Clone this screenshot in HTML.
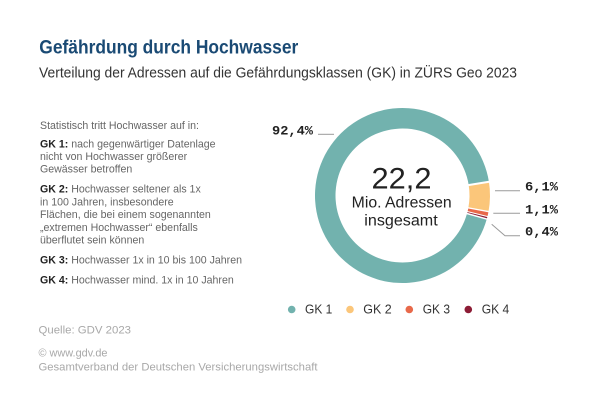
<!DOCTYPE html>
<html>
<head>
<meta charset="utf-8">
<style>
  html,body{margin:0;padding:0;background:#fff;}
  body{width:600px;height:407px;overflow:hidden;}
  svg{display:block;}
</style>
</head>
<body>
<svg width="600" height="407" viewBox="0 0 600 407" xmlns="http://www.w3.org/2000/svg">
  <rect width="600" height="407" fill="#fff"/>

  <!-- Title -->
  <text x="39.3" y="53.3" font-family="Liberation Sans, sans-serif" font-weight="bold" font-size="19.5" fill="#1a4a74" textLength="259" lengthAdjust="spacingAndGlyphs">Gefährdung durch Hochwasser</text>
  <text x="39" y="77.3" font-family="Liberation Sans, sans-serif" font-size="15" fill="#333" textLength="478" lengthAdjust="spacingAndGlyphs">Verteilung der Adressen auf die Gefährdungsklassen (GK) in ZÜRS Geo 2023</text>

  <!-- Left description -->
  <g font-family="Liberation Sans, sans-serif" font-size="10.6" fill="#666">
    <text x="40" y="129">Statistisch tritt Hochwasser auf in:</text>
    <text x="40" y="147.3"><tspan font-weight="bold" fill="#222">GK 1:</tspan> nach gegenwärtiger Datenlage</text>
    <text x="40" y="160">nicht von Hochwasser größerer</text>
    <text x="40" y="172.7">Gewässer betroffen</text>
    <text x="40" y="192.7"><tspan font-weight="bold" fill="#222">GK 2:</tspan> Hochwasser seltener als 1x</text>
    <text x="40" y="205.5">in 100 Jahren, insbesondere</text>
    <text x="40" y="218.2">Flächen, die bei einem sogenannten</text>
    <text x="40" y="231">„extremen Hochwasser“ ebenfalls</text>
    <text x="40" y="243.7">überflutet sein können</text>
    <text x="40" y="263.5"><tspan font-weight="bold" fill="#222">GK 3:</tspan> Hochwasser 1x in 10 bis 100 Jahren</text>
    <text x="40" y="283.3"><tspan font-weight="bold" fill="#222">GK 4:</tspan> Hochwasser mind. 1x in 10 Jahren</text>
  </g>

  <!-- Donut -->
  <path d="M 486.78 219.03 A 87.5 87.5 0 1 1 488.92 181.81 L 468.68 185.02 A 67 67 0 1 0 467.03 213.52 Z" fill="#72b2ae"/>
  <path d="M 488.92 181.81 A 87.5 87.5 0 0 1 488.51 211.60 L 468.36 207.82 A 67 67 0 0 0 468.68 185.02 Z" fill="#fbc67a"/>
  <path d="M 488.51 211.60 A 87.5 87.5 0 0 1 487.44 216.52 L 467.54 211.60 A 67 67 0 0 0 468.36 207.82 Z" fill="#e8694a"/>
  <path d="M 487.44 216.52 A 87.5 87.5 0 0 1 486.78 219.03 L 467.03 213.52 A 67 67 0 0 0 467.54 211.60 Z" fill="#8c1c35"/>
  <g stroke="#fff">
    <line x1="466.70" y1="185.33" x2="491.39" y2="181.42" stroke-width="2"/>
    <line x1="466.39" y1="207.46" x2="490.96" y2="212.06" stroke-width="1.3"/>
    <line x1="465.60" y1="211.11" x2="489.86" y2="217.12" stroke-width="1.1"/>
    <line x1="465.11" y1="212.98" x2="489.18" y2="219.70" stroke-width="1.5"/>
  </g>

  <!-- Center text -->
  <g font-family="Liberation Sans, sans-serif" fill="#222" text-anchor="middle">
    <text x="401.5" y="188.7" font-size="29.5" textLength="60" lengthAdjust="spacingAndGlyphs">22,2</text>
    <text x="401.7" y="207.3" font-size="15.5" textLength="100" lengthAdjust="spacingAndGlyphs">Mio. Adressen</text>
    <text x="401" y="225.7" font-size="15.5" textLength="73.4" lengthAdjust="spacingAndGlyphs">insgesamt</text>
  </g>

  <!-- Leader lines -->
  <g stroke="#9a9a9a" stroke-width="1" fill="none">
    <line x1="318" y1="134.3" x2="334" y2="134.3"/>
    <line x1="495" y1="190.7" x2="520" y2="190.7"/>
    <line x1="493.3" y1="213.3" x2="520" y2="213.3"/>
    <polyline points="491.7,224.3 505,235.7 520,235.7"/>
  </g>

  <!-- Percentage labels -->
  <g font-family="Liberation Mono, monospace" font-weight="bold" font-size="13" fill="#222">
    <text x="272" y="134.5" textLength="41" lengthAdjust="spacingAndGlyphs">92,4%</text>
    <text x="525" y="190.3" textLength="33" lengthAdjust="spacingAndGlyphs">6,1%</text>
    <text x="525" y="213.3" textLength="33" lengthAdjust="spacingAndGlyphs">1,1%</text>
    <text x="525" y="235.5" textLength="33" lengthAdjust="spacingAndGlyphs">0,4%</text>
  </g>

  <!-- Legend -->
  <circle cx="291.7" cy="309.5" r="3.8" fill="#72b2ae"/>
  <circle cx="350" cy="309.5" r="3.8" fill="#fbc67a"/>
  <circle cx="409.3" cy="309.5" r="3.8" fill="#e8694a"/>
  <circle cx="468.3" cy="309.5" r="3.8" fill="#8c1c35"/>
  <g font-family="Liberation Sans, sans-serif" font-size="12.5" fill="#333">
    <text x="305" y="313.3" textLength="27.3" lengthAdjust="spacingAndGlyphs">GK 1</text>
    <text x="363.3" y="313.3" textLength="28.4" lengthAdjust="spacingAndGlyphs">GK 2</text>
    <text x="422.7" y="313.3" textLength="27.3" lengthAdjust="spacingAndGlyphs">GK 3</text>
    <text x="481.7" y="313.3" textLength="27.6" lengthAdjust="spacingAndGlyphs">GK 4</text>
  </g>

  <!-- Footer -->
  <g font-family="Liberation Sans, sans-serif" font-size="10.8" fill="#a8a8a8">
    <text x="38.5" y="333.3" textLength="92.5" lengthAdjust="spacingAndGlyphs">Quelle: GDV  2023</text>
    <text x="38.5" y="356.7" textLength="69" lengthAdjust="spacingAndGlyphs">© www.gdv.de</text>
    <text x="38.5" y="370.7" textLength="279" lengthAdjust="spacingAndGlyphs">Gesamtverband der Deutschen Versicherungswirtschaft</text>
  </g>
</svg>
</body>
</html>
